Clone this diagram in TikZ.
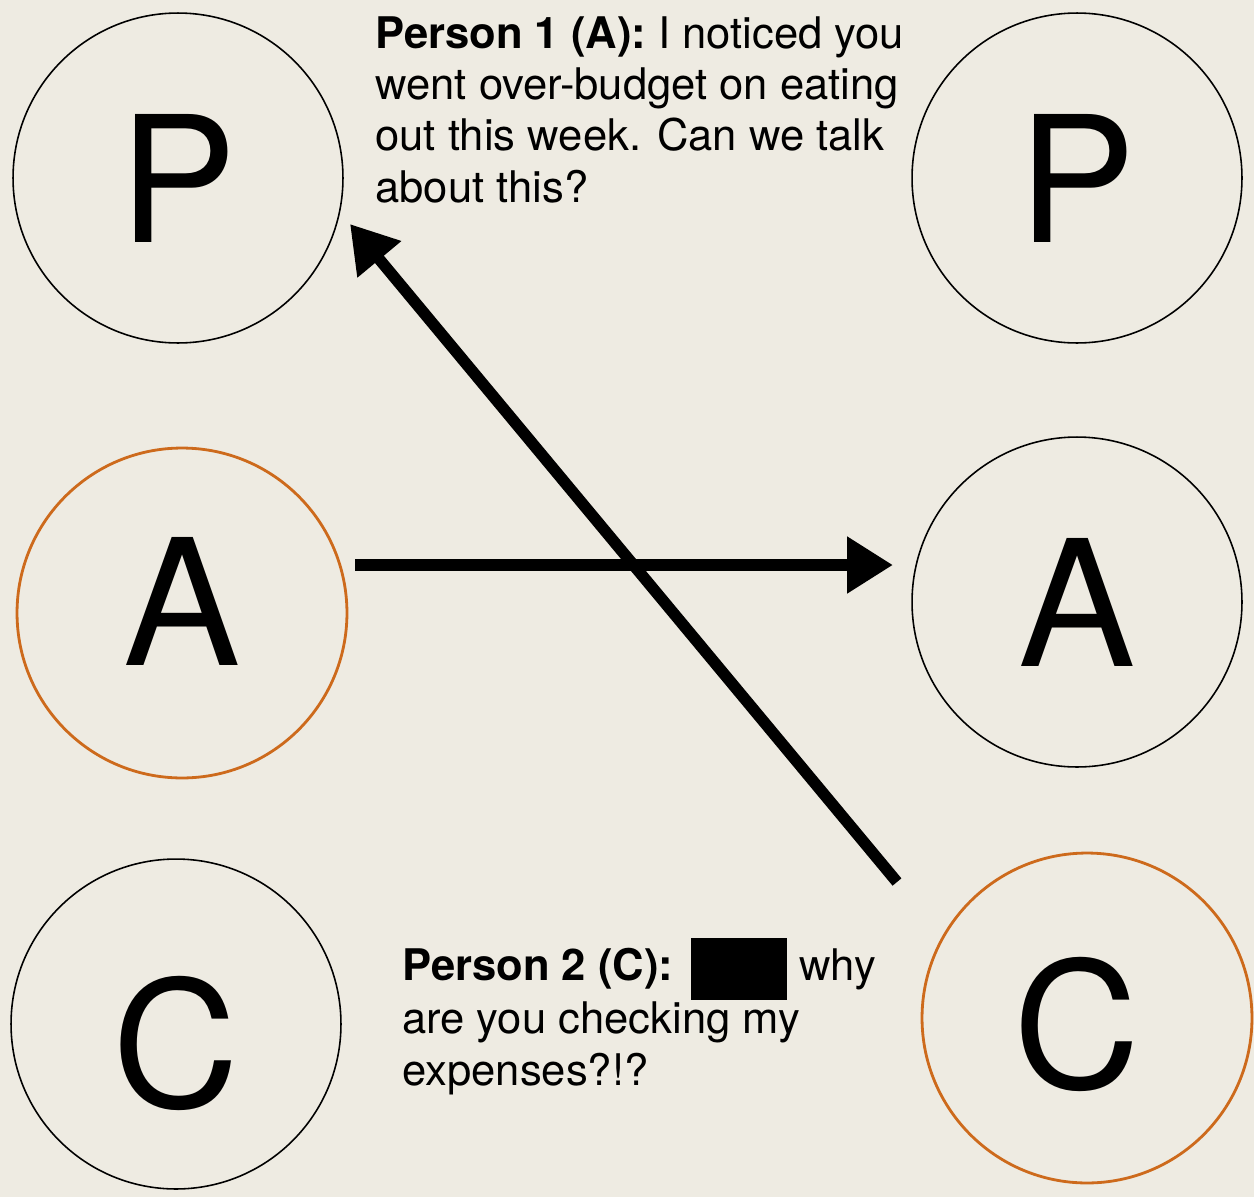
\documentclass[tikz,border=0pt]{standalone}
\usepackage{fontspec}
\setmainfont{TeX Gyre Heros}
\usepackage{tikz}
\usetikzlibrary{arrows.meta, calc, positioning}
\definecolor{paper}{RGB}{238,235,226}
\definecolor{hooked}{RGB}{205,106,28}
\tikzset{
 role/.style = {
    circle, draw, line width=0.9pt,
    minimum size=6.6cm, inner sep=0pt,
    font=\fontsize{100}{100}\selectfont},
 active/.style = {
    draw=hooked, line width=1.6pt},
 line/.style = {
    draw, line width=0.23cm, -{Triangle[length=0.92cm, width=1.08cm]}},
 speech/.style = {
    anchor=north west, inner sep=0pt, align=left,
    font=\fontsize{24.8}{29.2}\selectfont},
}
\begin{document}
\begin{tikzpicture}[x=0.02cm, y=-0.02cm]
    \fill[paper] (0,0) rectangle (1254,1197);
    \useasboundingbox (0,0) rectangle (1254,1197);

    % Place nodes
    \node [role]                      (pL) at (178,178)  {P};
    \node [role]                      (pR) at (1077,178) {P};
    \node [role, active, text depth=0.46cm] (aL) at (182,613) {A};
    \node [role]                      (aR) at (1077,602) {A};
    \node [role, text height=3.42cm]  (cL) at (176,1024) {C};
    \node [role, active, text height=2.9cm] (cR) at (1087,1018) {\mbox{C\kern0.4cm}};

    \node [speech] (msgA) at (375,16)
        {\textbf{Person 1 (A):} I noticed you\\
         went over-budget on eating\\
         out this week. Can we talk\\
         about this?};
    \node [speech] (msgC) at (402,938)
        {\textbf{Person 2 (C):}\hspace{3pt} \rule[-11.3pt]{55pt}{35.2pt} why\\
         are you checking my\\
         expenses?!?};

    \draw[line] ($(aL.center)+(173,-48)$) -- ($(aR.center)+(-184,-37)$);
    \draw[line] ($(cR.center)+(-190,-136)$) -- ($(pL.center)+(172,46)$);
\end{tikzpicture}
\end{document}
